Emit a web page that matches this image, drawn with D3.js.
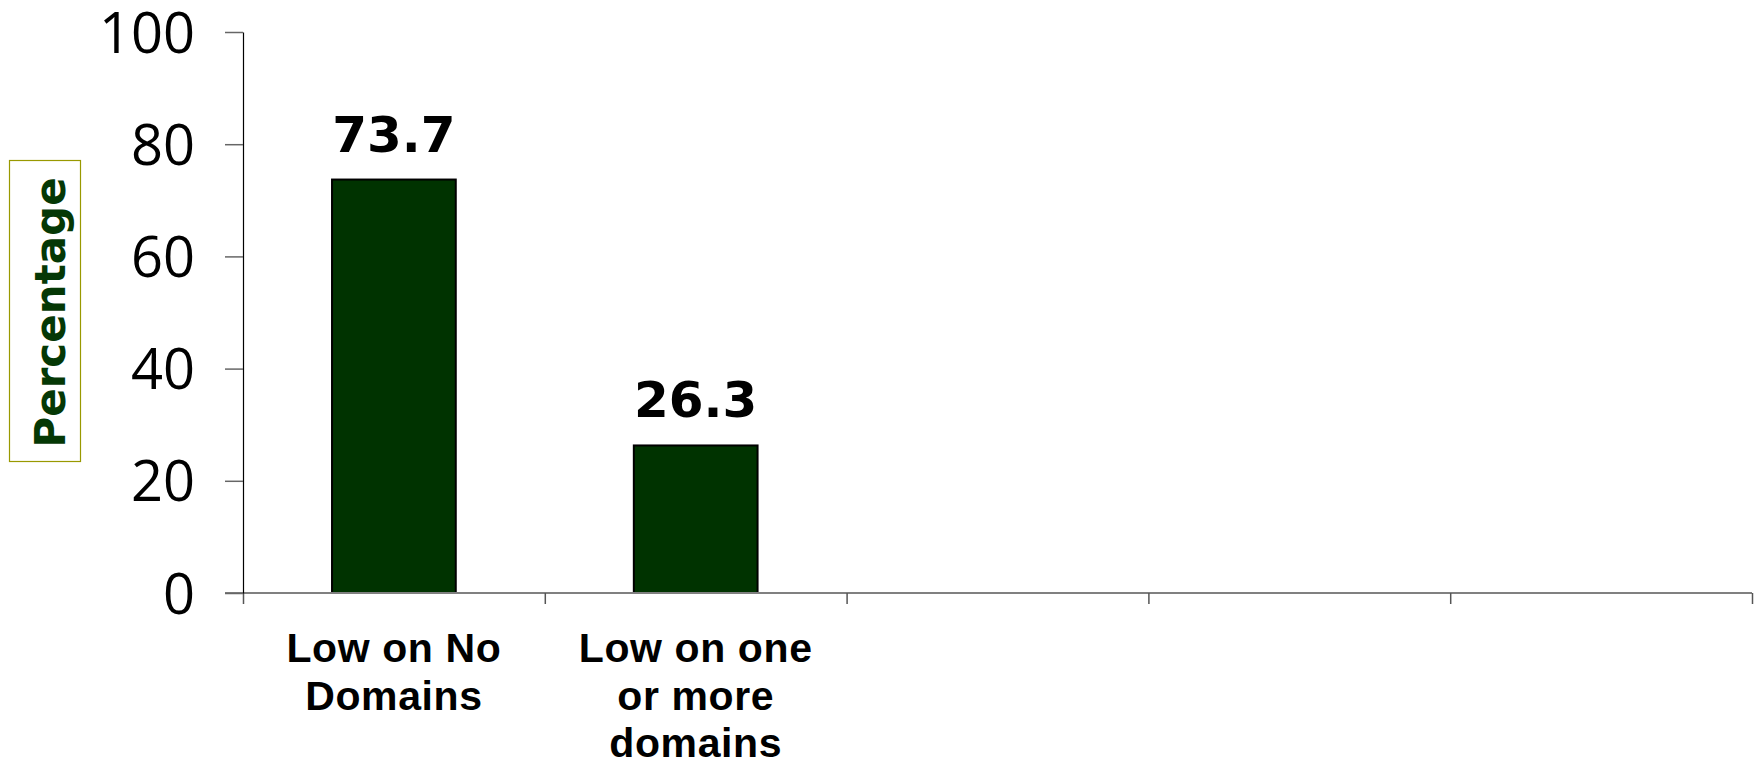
<!DOCTYPE html>
<html>
<head>
<meta charset="utf-8">
<script src="https://cdn.jsdelivr.net/npm/d3@7"></script>
<style>
  html, body { margin: 0; padding: 0; background: #fff; }
  svg { display: block; }
</style>
</head>
<body>
<script>
// Chart data
const categories = ["Low on No Domains", "Low on one or more domains", "", "", ""];
const categoryLines = [["Low on No", "Domains"], ["Low on one", "or more", "domains"], [], [], []];
const values = [73.7, 26.3, null, null, null];
const yTicks = [0, 20, 40, 60, 80, 100];
const yTitle = "Percentage";

const W = 1760, H = 764;
const svg = d3.select("body").append("svg").attr("width", W).attr("height", H);

const x0 = 243, x1 = 1752, yBottom = 593, yTop = 32;

const x = d3.scaleBand().domain(d3.range(categories.length)).range([x0, x1]).padding(0);
const xEdge = d3.scaleLinear().domain([0, categories.length]).range([x0, x1]);
const y = d3.scaleLinear().domain([0, 100]).range([yBottom, yTop]);
const barW = x.bandwidth() * 0.41;

// Bars
const data = values.map((v, i) => ({ i, v })).filter(d => d.v != null);
svg.append("g").selectAll("rect").data(data).join("rect")
  .attr("x", d => x(d.i) + (x.bandwidth() - barW) / 2)
  .attr("y", d => y(d.v))
  .attr("width", barW)
  .attr("height", d => y(0) - y(d.v))
  .attr("fill", "#003300")
  .attr("stroke", "#000")
  .attr("stroke-width", 2);

// X axis: ticks sit on the category boundaries
const xAxis = svg.append("g").attr("transform", `translate(0,${yBottom})`)
  .call(d3.axisBottom(xEdge).tickValues(d3.range(categories.length + 1)).tickSize(11).tickSizeOuter(0).tickFormat(""));
xAxis.select(".domain").attr("stroke", "#808080").attr("stroke-width", 2).attr("d", `M${x0 - 18},0H${x1}`);
xAxis.selectAll(".tick line").attr("stroke", "#555").attr("stroke-width", 1.5);

// Y axis
const yAxis = svg.append("g").attr("transform", `translate(${x0},0)`)
  .call(d3.axisLeft(y).tickValues(yTicks).tickSize(18).tickSizeOuter(0).tickPadding(30));
yAxis.select(".domain").attr("stroke", "#000").attr("stroke-width", 1.2);
yAxis.selectAll(".tick line").attr("stroke", "#666").attr("stroke-width", 1.5);
yAxis.selectAll(".tick text")
  .attr("font-family", "'Open Sans', sans-serif")
  .attr("font-size", 56)
  .attr("fill", "#000")
  .attr("dy", "0.36em");

// Category labels
const lab = svg.append("g").selectAll("text").data(categoryLines.map((lines, i) => ({ lines, i }))).join("text")
  .attr("text-anchor", "middle")
  .attr("font-family", "'Liberation Sans', Arial, sans-serif")
  .attr("font-weight", "bold")
  .attr("font-size", 41)
  .attr("letter-spacing", 0.6)
  .attr("fill", "#000");
lab.selectAll("tspan").data(d => d.lines.map(t => ({ t, i: d.i }))).join("tspan")
  .attr("x", d => x(d.i) + x.bandwidth() / 2)
  .attr("y", (d, k) => 662 + k * 47.5)
  .text(d => d.t);

// Value labels
svg.append("g").selectAll("text").data(data).join("text")
  .attr("x", d => x(d.i) + x.bandwidth() / 2)
  .attr("y", d => y(d.v) - 28)
  .attr("text-anchor", "middle")
  .attr("font-family", "'DejaVu Sans', Verdana, sans-serif")
  .attr("font-weight", "bold")
  .attr("font-size", 50)
  .attr("fill", "#000")
  .text(d => d.v.toFixed(1));

// Y title in a framed box
const titleBox = svg.append("g");
titleBox.append("rect")
  .attr("x", 9.5).attr("y", 160.5).attr("width", 71).attr("height", 301)
  .attr("fill", "#fff").attr("stroke", "#999900").attr("stroke-width", 1.2);
titleBox.append("text")
  .attr("transform", `translate(65,${(160 + 461) / 2 + 2}) rotate(-90)`)
  .attr("text-anchor", "middle")
  .attr("font-family", "'DejaVu Sans', Verdana, sans-serif")
  .attr("font-weight", "bold")
  .attr("font-size", 42)
  .attr("fill", "#053805")
  .text(yTitle);
</script>
</body>
</html>
